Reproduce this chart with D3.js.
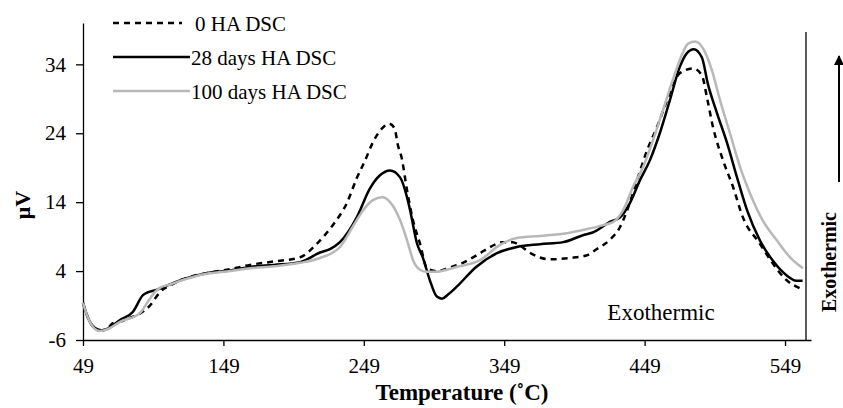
<!DOCTYPE html>
<html>
<head>
<meta charset="utf-8">
<script src="https://cdn.jsdelivr.net/npm/d3@7"></script>
<style>
  body { margin: 0; background: #fff; }
  svg { display: block; font-family: 'Liberation Serif', 'Times New Roman', serif; }
  .axis path, .axis line { stroke: #000; stroke-width: 1.3px; }
  .axis text { font-size: 21px; fill: #000; font-family: 'Liberation Serif', 'Times New Roman', serif; }
</style>
</head>
<body>
<svg></svg>
<script>
const [svgWidth, svgHeight] = [843, 408];
const svg = d3.select('svg')
  .attr('width', svgWidth)
  .attr('height', svgHeight);

// data
const temp0 = [49, 53, 57, 62, 67, 70, 76, 82.5, 90, 96.7, 101, 104, 110, 120, 137, 154, 168, 185, 203.6, 215.7, 227, 237, 244, 250, 255.5, 262, 267, 271, 273, 276, 279.8, 284, 289, 294, 298, 301, 310, 319.6, 331.8, 340, 348, 355, 361, 367, 374, 381.6, 395.9, 408, 415, 424, 431.5, 436.5, 443.6, 450.7, 457.8, 467, 474, 483.5, 489.8, 493.4, 497.7, 504.8, 512, 519, 531, 540, 550, 559.7];
const dsc0 = [-0.6, -3.0, -4.2, -4.6, -4.2, -3.6, -3.3, -2.8, -2.1, -1.0, 0.2, 1.0, 1.8, 2.8, 3.7, 4.3, 4.9, 5.4, 6.0, 8.0, 10.7, 13.9, 17.5, 20.1, 22.7, 24.7, 25.4, 24.7, 22.5, 20.4, 15.7, 11.4, 8.0, 4.4, 4.1, 4.0, 4.5, 5.2, 6.6, 7.6, 8.2, 8.2, 7.6, 6.7, 6.0, 5.7, 5.9, 6.3, 7.2, 8.5, 10.4, 12.8, 17.2, 21.5, 24.9, 29.8, 32.7, 33.4, 32.4, 29.2, 24.9, 20.1, 16.2, 11.8, 8.0, 5.2, 2.7, 1.5];

const temp28 = [49, 53, 57, 62, 67, 75.4, 84.6, 91.7, 95, 101.7, 110, 120, 137, 154, 168, 185, 203.6, 217.8, 224.9, 232, 244, 253.4, 260.5, 267.7, 274.8, 279.8, 282, 286.9, 291, 296, 301, 304.7, 309, 315, 329, 343.9, 358, 374.5, 391, 405, 412, 425, 431.5, 438.6, 445.7, 452.8, 459.8, 467, 474, 479, 484, 489.8, 494, 500.6, 507.7, 514.8, 522, 531, 540, 550, 557, 561.5];
const dsc28 = [-0.6, -3.0, -4.2, -4.6, -4.3, -3.1, -1.9, 0.5, 0.9, 1.3, 2.0, 2.8, 3.7, 4.1, 4.6, 4.9, 5.3, 6.7, 7.2, 8.2, 11.8, 16.0, 17.9, 18.6, 17.6, 14.7, 12.8, 8.0, 6.0, 2.7, 0.3, 0.0, 0.6, 1.7, 4.6, 6.6, 7.5, 7.9, 8.2, 9.2, 9.6, 11.2, 11.8, 13.9, 17.2, 20.1, 24.0, 28.8, 33.6, 35.6, 36.2, 35.0, 31.2, 26.9, 22.6, 17.6, 12.8, 8.5, 5.6, 3.4, 2.6, 2.6];

const temp100 = [49, 53, 57, 61, 67, 75, 89.6, 96, 100, 104, 110, 120, 137, 154, 168, 185, 203.6, 217.8, 232, 241, 248.4, 255.5, 262, 267.7, 274.8, 280.5, 284, 289, 294, 300, 315, 331.8, 346, 358, 374.5, 393.7, 408, 418, 426.5, 433.6, 440.7, 447.9, 455, 462, 469, 476, 480, 485, 490.6, 497, 502.7, 509.8, 517, 524, 533, 543, 552.6, 561.8];
const dsc100 = [-0.6, -3.0, -4.3, -4.7, -4.4, -3.4, -2.1, -0.2, 0.9, 1.6, 2.0, 2.7, 3.6, 4.0, 4.4, 4.7, 5.2, 5.9, 7.5, 10.4, 12.8, 14.3, 14.7, 14.0, 11.4, 8.0, 5.6, 4.2, 3.9, 3.9, 4.6, 5.6, 7.8, 8.8, 9.1, 9.5, 10.1, 10.6, 11.1, 12.8, 16.2, 19.1, 23.0, 27.3, 31.7, 35.6, 37.0, 37.3, 36.3, 33.1, 28.8, 24.0, 19.1, 15.3, 11.4, 8.5, 6.0, 4.4];

const seriesNames = ['0 HA DSC', '28 days HA DSC', '100 days HA DSC'];
const xTicks = [49, 149, 249, 349, 449, 549];
const yTicks = [-6, 4, 14, 24, 34];

const series = [
  { name: seriesNames[0], t: temp0, v: dsc0, color: '#000', dash: '6,5' },
  { name: seriesNames[1], t: temp28, v: dsc28, color: '#000', dash: null },
  { name: seriesNames[2], t: temp100, v: dsc100, color: '#b8b8b8', dash: null }
];

const x = d3.scaleLinear().domain([49, 567.5]).range([83, 811]);
const y = d3.scaleLinear().domain([-6, 40]).range([340, 23]);

// axes (plain hyphen for negatives, like the original)
svg.append('g')
  .attr('class', 'axis')
  .attr('transform', `translate(0, ${y(-6)})`)
  .call(d3.axisBottom(x).tickValues(xTicks).tickSize(6).tickSizeOuter(0).tickPadding(12).tickFormat(d => String(d)));

svg.append('g')
  .attr('class', 'axis')
  .attr('transform', `translate(${x(49)}, 0)`)
  .call(d3.axisLeft(y).tickValues(yTicks).tickSize(7).tickSizeOuter(0).tickPadding(10).tickFormat(d => String(d)));

// right border line
svg.append('line')
  .attr('x1', 806).attr('x2', 806)
  .attr('y1', 32).attr('y2', y(-6))
  .attr('stroke', '#000')
  .attr('stroke-width', 1.3);

// curves
const line = d3.line()
  .x(d => x(d[0]))
  .y(d => y(d[1]))
  .curve(d3.curveMonotoneX);

series.forEach(s => {
  const pts = s.t.map((t, i) => [t, s.v[i]]);
  svg.append('path')
    .datum(pts)
    .attr('fill', 'none')
    .attr('stroke', s.color)
    .attr('stroke-width', 2.5)
    .attr('stroke-dasharray', s.dash)
    .attr('d', line);
});

// legend
const legend = svg.append('g');
series.forEach((s, i) => {
  const ly = 23 + i * 34;
  legend.append('line')
    .attr('x1', 113).attr('x2', i === 0 ? 182 : 190)
    .attr('y1', ly).attr('y2', ly)
    .attr('stroke', s.color)
    .attr('stroke-width', 2.5)
    .attr('stroke-dasharray', s.dash);
  legend.append('text')
    .attr('x', i === 0 ? 195 : 191)
    .attr('y', ly + 8)
    .attr('font-size', 21)
    .text(s.name);
});

// titles
svg.append('text')
  .attr('x', 462).attr('y', 400)
  .attr('text-anchor', 'middle')
  .attr('font-size', 23)
  .attr('font-weight', 'bold')
  .text('Temperature (˚C)');

svg.append('text')
  .attr('transform', 'translate(30, 205) rotate(-90)')
  .attr('text-anchor', 'middle')
  .attr('font-size', 22)
  .attr('font-weight', 'bold')
  .text('μV');

svg.append('text')
  .attr('x', 661).attr('y', 320)
  .attr('text-anchor', 'middle')
  .attr('font-size', 23)
  .text('Exothermic');

// exothermic arrow on the right
svg.append('defs').append('marker')
  .attr('id', 'arrow')
  .attr('viewBox', '0 0 10 10')
  .attr('refX', 9).attr('refY', 5)
  .attr('markerWidth', 5).attr('markerHeight', 6)
  .attr('orient', 'auto')
  .append('path')
  .attr('d', 'M0,0L10,5L0,10Z')
  .attr('fill', '#000');

svg.append('line')
  .attr('x1', 839).attr('x2', 839)
  .attr('y1', 182).attr('y2', 56)
  .attr('stroke', '#000')
  .attr('stroke-width', 2)
  .attr('marker-end', 'url(#arrow)');

svg.append('text')
  .attr('transform', 'translate(836, 262) rotate(-90)')
  .attr('text-anchor', 'middle')
  .attr('font-size', 20)
  .attr('font-weight', 'bold')
  .text('Exothermic');
</script>
</body>
</html>
